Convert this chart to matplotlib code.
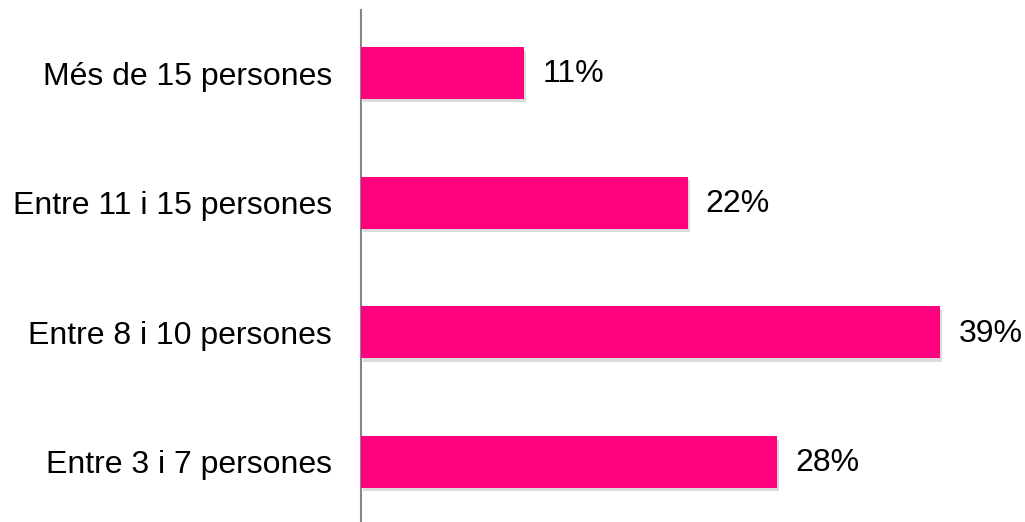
import matplotlib.pyplot as plt
import matplotlib.patheffects as pe

plt.rcParams['font.family'] = ['Liberation Sans', 'DejaVu Sans']

categories = ['Entre 3 i 7 persones', 'Entre 8 i 10 persones',
              'Entre 11 i 15 persones', 'Més de 15 persones']
values = [28, 39, 22, 11]
labels = ['28%', '39%', '22%', '11%']

fig = plt.figure(figsize=(10.25, 5.22), dpi=100)
ax = fig.add_axes([361/1025, 0.0, 1 - 361/1025, 512/522])

pos = list(range(len(categories)))
bars = ax.barh(pos, values, height=0.4, color='#FF007F', zorder=3)
for b in bars:
    b.set_path_effects([pe.SimplePatchShadow(offset=(1.5, -2.5), shadow_rgbFace='#999999', alpha=0.35),
                        pe.Normal()])

for p, v, lab in zip(pos, values, labels):
    ax.annotate(lab, xy=(v, p), xytext=(13, -1), textcoords='offset points',
                va='center', ha='left', fontsize=23, color='black')

ax.set_xlim(0, 44.7)
ax.set_ylim(-0.463, 3.486)
ax.set_yticks(pos)
ax.set_yticklabels(categories, fontsize=23, color='black')
ax.tick_params(axis='y', length=0, pad=21)
ax.set_xticks([])
for s in ['top', 'right', 'bottom']:
    ax.spines[s].set_visible(False)
ax.spines['left'].set_color('#868686')
ax.spines['left'].set_linewidth(1.5)

fig.savefig('out.png', dpi=100)
